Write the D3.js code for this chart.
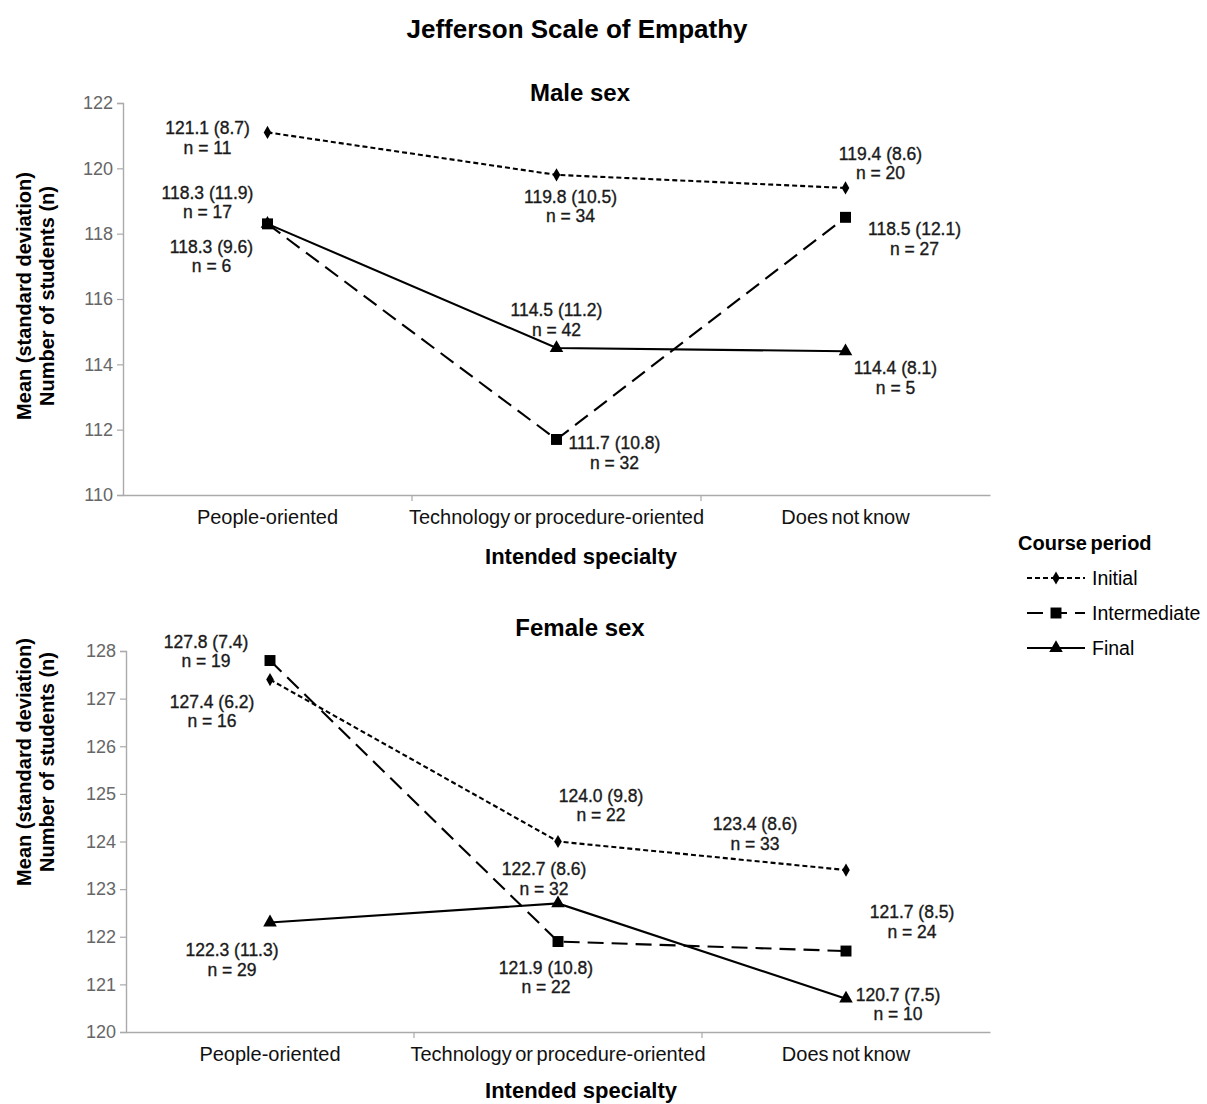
<!DOCTYPE html>
<html>
<head>
<meta charset="utf-8">
<script src="https://cdn.jsdelivr.net/npm/d3@7"></script>
<style>
  body { margin: 0; background: #fff; }
  svg { display: block; font-family: "Liberation Sans", Arial, sans-serif; }
</style>
</head>
<body>
<svg id="chart" width="1207" height="1104"></svg>
<script>
// Intended specialty categories
const categories = ["People-oriented", "Technology or procedure-oriented", "Does not know"];
const periods = ["Initial", "Intermediate", "Final"];

// Male sex: means, SDs and counts per course period
const maleInitialMean = [121.1, 119.8, 119.4];
const maleInitialSD = [8.7, 10.5, 8.6];
const maleInitialN = [11, 34, 20];
const maleIntermediateMean = [118.3, 111.7, 118.5];
const maleIntermediateSD = [11.9, 10.8, 12.1];
const maleIntermediateN = [17, 32, 27];
const maleFinalMean = [118.3, 114.5, 114.4];
const maleFinalSD = [9.6, 11.2, 8.1];
const maleFinalN = [6, 42, 5];

// Female sex: means, SDs and counts per course period
const femaleInitialMean = [127.4, 124.0, 123.4];
const femaleInitialSD = [6.2, 9.8, 8.6];
const femaleInitialN = [16, 22, 33];
const femaleIntermediateMean = [127.8, 121.9, 121.7];
const femaleIntermediateSD = [7.4, 10.8, 8.5];
const femaleIntermediateN = [19, 22, 24];
const femaleFinalMean = [122.3, 122.7, 120.7];
const femaleFinalSD = [11.3, 8.6, 7.5];
const femaleFinalN = [29, 32, 10];

// Axis ticks
const maleTicks = [110, 112, 114, 116, 118, 120, 122];
const femaleTicks = [120, 121, 122, 123, 124, 125, 126, 127, 128];

// Label placement (offset of label centre from its point, in px) — layout only
const maleLabelOffsets = {
  Initial: [[-60, 2], [14, 28], [35, -28]],
  Intermediate: [[-60, -25], [58, 10], [69, 18]],
  Final: [[-56, 29], [0, -32], [50, 23]]
};
const femaleLabelOffsets = {
  Initial: [[-58, 28], [43, -40], [-91, -40]],
  Intermediate: [[-64, -13], [-12, 32], [66, -33]],
  Final: [[-38, 34], [-14, -28], [52, 2]]
};

const styles = {
  Initial: { dash: "5,3", marker: "diamond" },
  Intermediate: { dash: "16,8", marker: "square" },
  Final: { dash: null, marker: "triangle" }
};

const svg = d3.select("#chart");

svg.append("text").attr("x", 577).attr("y", 38).attr("text-anchor", "middle")
  .attr("font-size", 26).attr("font-weight", "bold").text("Jefferson Scale of Empathy");

function markerPath(type) {
  if (type === "diamond") return d3.symbol(d3.symbolDiamond, 50)();
  if (type === "square") return d3.symbol(d3.symbolSquare, 120)();
  return d3.symbol(d3.symbolTriangle, 80)();
}

function panel(cfg) {
  const x0 = cfg.left, x1 = 990;
  const x = d3.scaleBand().domain(categories).range([x0, x1]);
  const y = d3.scaleLinear().domain(cfg.domain).range([cfg.bottom, cfg.top]);
  const g = svg.append("g");

  // y axis
  const ya = g.append("g").attr("transform", `translate(${x0},0)`)
    .call(d3.axisLeft(y).tickValues(cfg.ticks).tickSize(6).tickPadding(4).tickFormat(d3.format("d")));
  ya.select(".domain").attr("stroke", "#aaa").attr("stroke-width", 1.4);
  ya.selectAll(".tick line").attr("stroke", "#aaa").attr("stroke-width", 1.2);
  ya.selectAll(".tick text").attr("font-size", 18).attr("fill", "#666")
    .attr("font-family", "'Liberation Sans', Arial, sans-serif");

  // x axis
  const xa = g.append("g").attr("transform", `translate(0,${cfg.bottom})`)
    .call(d3.axisBottom(x).tickSize(0).tickPadding(14));
  xa.select(".domain").attr("stroke", "#aaa").attr("stroke-width", 1.4);
  xa.selectAll(".tick text").attr("font-size", 20).attr("fill", "#111")
    .attr("word-spacing", "-2px").attr("dy", "0.75em")
    .attr("font-family", "'Liberation Sans', Arial, sans-serif");
  // category boundary ticks
  g.append("g").selectAll("line").data(categories.slice(1)).join("line")
    .attr("x1", d => x(d)).attr("x2", d => x(d))
    .attr("y1", cfg.bottom).attr("y2", cfg.bottom + 6).attr("stroke", "#aaa").attr("stroke-width", 1.2);

  // titles
  g.append("text").attr("x", 580).attr("y", cfg.titleY).attr("text-anchor", "middle")
    .attr("font-size", 24).attr("font-weight", "bold").text(cfg.title);
  g.append("text").attr("x", 581).attr("y", cfg.xTitleY).attr("text-anchor", "middle")
    .attr("font-size", 22).attr("font-weight", "bold").text("Intended specialty");
  const yl = g.append("text").attr("transform", `translate(31,${cfg.yTitleCenter}) rotate(-90)`)
    .attr("text-anchor", "middle").attr("font-size", 20).attr("font-weight", "bold");
  yl.append("tspan").attr("x", 0).attr("dy", 0).text("Mean (standard deviation)");
  yl.append("tspan").attr("x", 0).attr("dy", 23).text("Number of students (n)");

  const cx = d => x(d) + x.bandwidth() / 2;

  periods.forEach(p => {
    const s = cfg.series[p];
    const pts = categories.map((c, i) => ({ c, v: s.mean[i], sd: s.sd[i], n: s.n[i], off: cfg.offsets[p][i] }));
    g.append("path").datum(pts)
      .attr("d", d3.line().x(d => cx(d.c)).y(d => y(d.v)))
      .attr("fill", "none").attr("stroke", "#000").attr("stroke-width", 2.1)
      .attr("stroke-dasharray", styles[p].dash);
    g.append("g").selectAll("path").data(pts).join("path")
      .attr("transform", d => `translate(${cx(d.c)},${y(d.v)})`)
      .attr("d", markerPath(styles[p].marker)).attr("fill", "#000");
    const lab = g.append("g").selectAll("text").data(pts).join("text")
      .attr("text-anchor", "middle").attr("font-size", 17.5).attr("fill", "#1a1a1a")
      .attr("stroke", "#1a1a1a").attr("stroke-width", 0.35)
      .attr("transform", d => `translate(${cx(d.c) + d.off[0]},${y(d.v) + d.off[1]})`);
    lab.append("tspan").attr("x", 0).attr("dy", 0).text(d => `${d.v.toFixed(1)} (${d.sd.toFixed(1)})`);
    lab.append("tspan").attr("x", 0).attr("dy", 19.5).text(d => `n = ${d.n}`);
  });
}

panel({
  title: "Male sex", left: 123, top: 103, bottom: 495, domain: [110, 122], ticks: maleTicks,
  titleY: 101, xTitleY: 564, yTitleCenter: 296,
  offsets: maleLabelOffsets,
  series: {
    Initial: { mean: maleInitialMean, sd: maleInitialSD, n: maleInitialN },
    Intermediate: { mean: maleIntermediateMean, sd: maleIntermediateSD, n: maleIntermediateN },
    Final: { mean: maleFinalMean, sd: maleFinalSD, n: maleFinalN }
  }
});

panel({
  title: "Female sex", left: 126, top: 651, bottom: 1032, domain: [120, 128], ticks: femaleTicks,
  titleY: 636, xTitleY: 1098, yTitleCenter: 762,
  offsets: femaleLabelOffsets,
  series: {
    Initial: { mean: femaleInitialMean, sd: femaleInitialSD, n: femaleInitialN },
    Intermediate: { mean: femaleIntermediateMean, sd: femaleIntermediateSD, n: femaleIntermediateN },
    Final: { mean: femaleFinalMean, sd: femaleFinalSD, n: femaleFinalN }
  }
});

// Legend
const lg = svg.append("g").attr("transform", "translate(1018,0)");
lg.append("text").attr("x", 0).attr("y", 550).attr("font-size", 20).attr("font-weight", "bold")
  .attr("word-spacing", "-2px").text("Course period");
periods.forEach((p, i) => {
  const yy = 578 + i * 35;
  lg.append("line").attr("x1", 9).attr("x2", 67).attr("y1", yy).attr("y2", yy)
    .attr("stroke", "#000").attr("stroke-width", 2).attr("stroke-dasharray", styles[p].dash);
  lg.append("path").attr("transform", `translate(38,${yy})`).attr("d", markerPath(styles[p].marker));
  lg.append("text").attr("x", 74).attr("y", yy + 7).attr("font-size", 19.5).text(p);
});
</script>
</body>
</html>
